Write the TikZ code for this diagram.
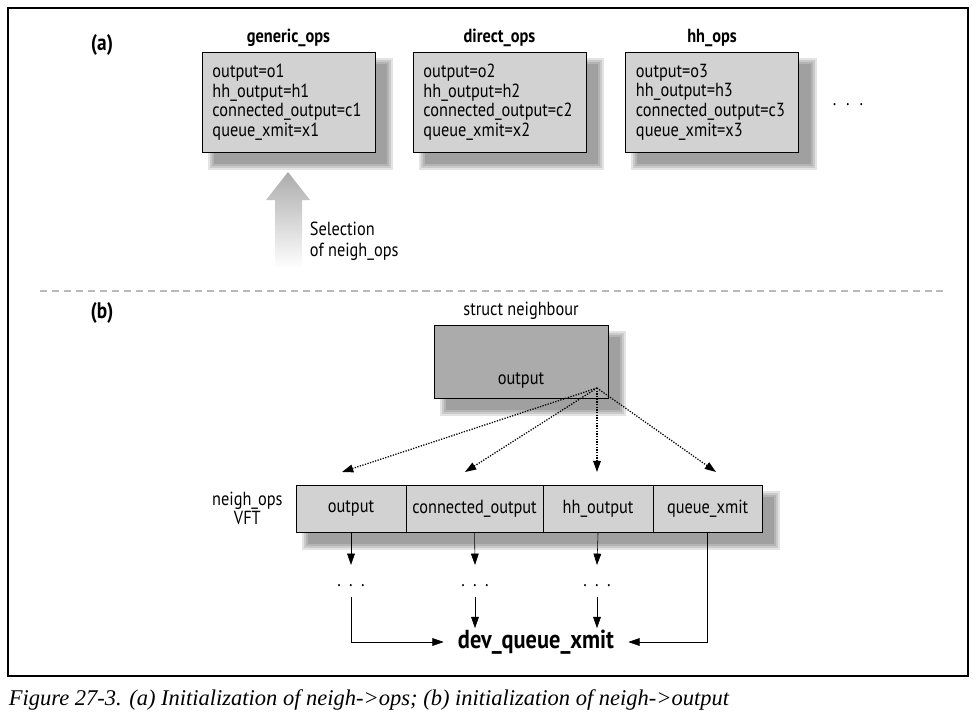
\documentclass[tikz,border=0pt]{standalone}
\usepackage{fontspec}
\setmainfont[FakeStretch=0.86]{PT Sans}
\newfontfamily\capfont{Liberation Serif}
\usetikzlibrary{arrows.meta,positioning,backgrounds}

\tikzset{
  opsbox/.style={draw, fill=gray!35, minimum width=4.325cm, minimum height=2.5cm, inner xsep=0.25cm,
    text width=3.8cm, align=left, font=\fontsize{13.5}{13.9}\selectfont},
  title/.style={font=\fontsize{13.5}{15}\bfseries\selectfont},
  cell/.style={draw, fill=gray!35, minimum height=1.175cm, inner sep=0pt, outer sep=0pt},
  dots/.style={inner sep=0pt, text height=15.5pt, text depth=7pt},
  tip/.style={-{Triangle[length=8pt,width=5.5pt]}},
}
% soft shadow between two corners, drawn behind the nodes
\newcommand{\softshadow}[2]{%
  \begin{scope}[on background layer]
    \foreach \k in {6,4,2,0}
      \fill[black, opacity=0.11] ([shift={(12-\k,12-\k)}]#1) rectangle ([shift={(12+\k,12+\k)}]#2);
  \end{scope}}

\begin{document}
\begin{tikzpicture}[x=0.025cm, y=-0.025cm, font=\fontsize{13.5}{15}\selectfont]
  \useasboundingbox (0,0) rectangle (980,724);
  \draw[line width=1.3pt] (8,8) rectangle (968,676);

  % (a)
  \node[font=\fontsize{16}{18}\bfseries\selectfont] (la) at (102,45) {(a)};
  \node[opsbox] (generic) at (288.5,102) {output=o1\\hh\_output=h1\\connected\_output=c1\\queue\_xmit=x1};
  \node[opsbox] (direct) at (499.5,102) {output=o2\\hh\_output=h2\\connected\_output=c2\\queue\_xmit=x2};
  \node[opsbox] (hh) at (712,102) {output=o3\\hh\_output=h3\\connected\_output=c3\\queue\_xmit=x3};
  \softshadow{generic.north west}{generic.south east}
  \softshadow{direct.north west}{direct.south east}
  \softshadow{hh.north west}{hh.south east}
  \node[title, above=0pt of generic] {generic\_ops};
  \node[title, above=0pt of direct] {direct\_ops};
  \node[title, above=0pt of hh] {hh\_ops};
  \node (more) at (848,105) {.\hspace{7pt}.\hspace{7pt}.};

  \shade[top color=gray!65, bottom color=white] (288,172) -- (310,200) -- (302,200) -- (302,268)
    -- (275,268) -- (275,200) -- (266,200) -- cycle;
  \node[anchor=west, align=left] (sel) at (305,241) {Selection\\of neigh\_ops};

  \draw[gray!55, line width=1.2pt, dash pattern=on 5pt off 3.5pt] (40,291) -- (945,291);

  % (b)
  \node[font=\fontsize{16}{18}\bfseries\selectfont] (lb) at (102,313) {(b)};
  \node[draw, fill=black!33, minimum width=4.35cm, minimum height=1.825cm] (neigh) at (521,361.5) {};
  \softshadow{neigh.north west}{neigh.south east}
  \node[above=0pt of neigh] {struct neighbour};
  \node (out) at (521,380) {output};
  \coordinate (src) at (597,388);

  \node[cell, minimum width=2.75cm] (c1) at (351,508.5) {output};
  \node[cell, minimum width=3.425cm, anchor=west] (c2) at (c1.east) {connected\_output};
  \node[cell, minimum width=2.75cm, anchor=west] (c3) at (c2.east) {hh\_output};
  \node[cell, minimum width=2.725cm, anchor=west] (c4) at (c3.east) {queue\_xmit};
  \softshadow{c1.north west}{c4.south east}
  \node[align=center, left=6pt of c1, font=\fontsize{13.5}{13}\selectfont] (vft) {neigh\_ops\\VFT};

  \coordinate (t1) at (342,472);
  \coordinate (t2) at (465,472);
  \coordinate (t3) at (597,472);
  \coordinate (t4) at (716,472);
  \foreach \t in {t1,t2,t3,t4}
    \draw[tip, densely dotted, line width=0.9pt] (src) -- (\t);

  \node[dots] (d1) at (351,581) {.\hspace{6pt}.\hspace{6pt}.};
  \node[dots] (d2) at (475,581) {.\hspace{6pt}.\hspace{6pt}.};
  \node[dots] (d3) at (597,581) {.\hspace{6pt}.\hspace{6pt}.};
  \node[font=\fontsize{18.5}{20}\bfseries\selectfont, inner xsep=10pt, inner ysep=1pt] (dev) at (536,642) {dev\_queue\_xmit};

  \draw[tip] (c1.south) -- (d1.north);
  \draw[tip] (c2.south) -- (d2.north);
  \draw[tip] (c3.south) -- (d3.north);
  \draw[tip] (d2.south) -- (d2.south |- dev.north);
  \draw[tip] (d3.south) -- (d3.south |- dev.north);
  \draw[tip] (d1.south) |- (dev.west);
  \draw[tip] (c4.south) |- (dev.east);

  \node[anchor=west, font=\capfont\itshape\fontsize{16}{18}\selectfont] (cap) at (4,700)
    {Figure 27-3. (a) Initialization of neigh->ops; (b) initialization of neigh->output};
\end{tikzpicture}
\end{document}
